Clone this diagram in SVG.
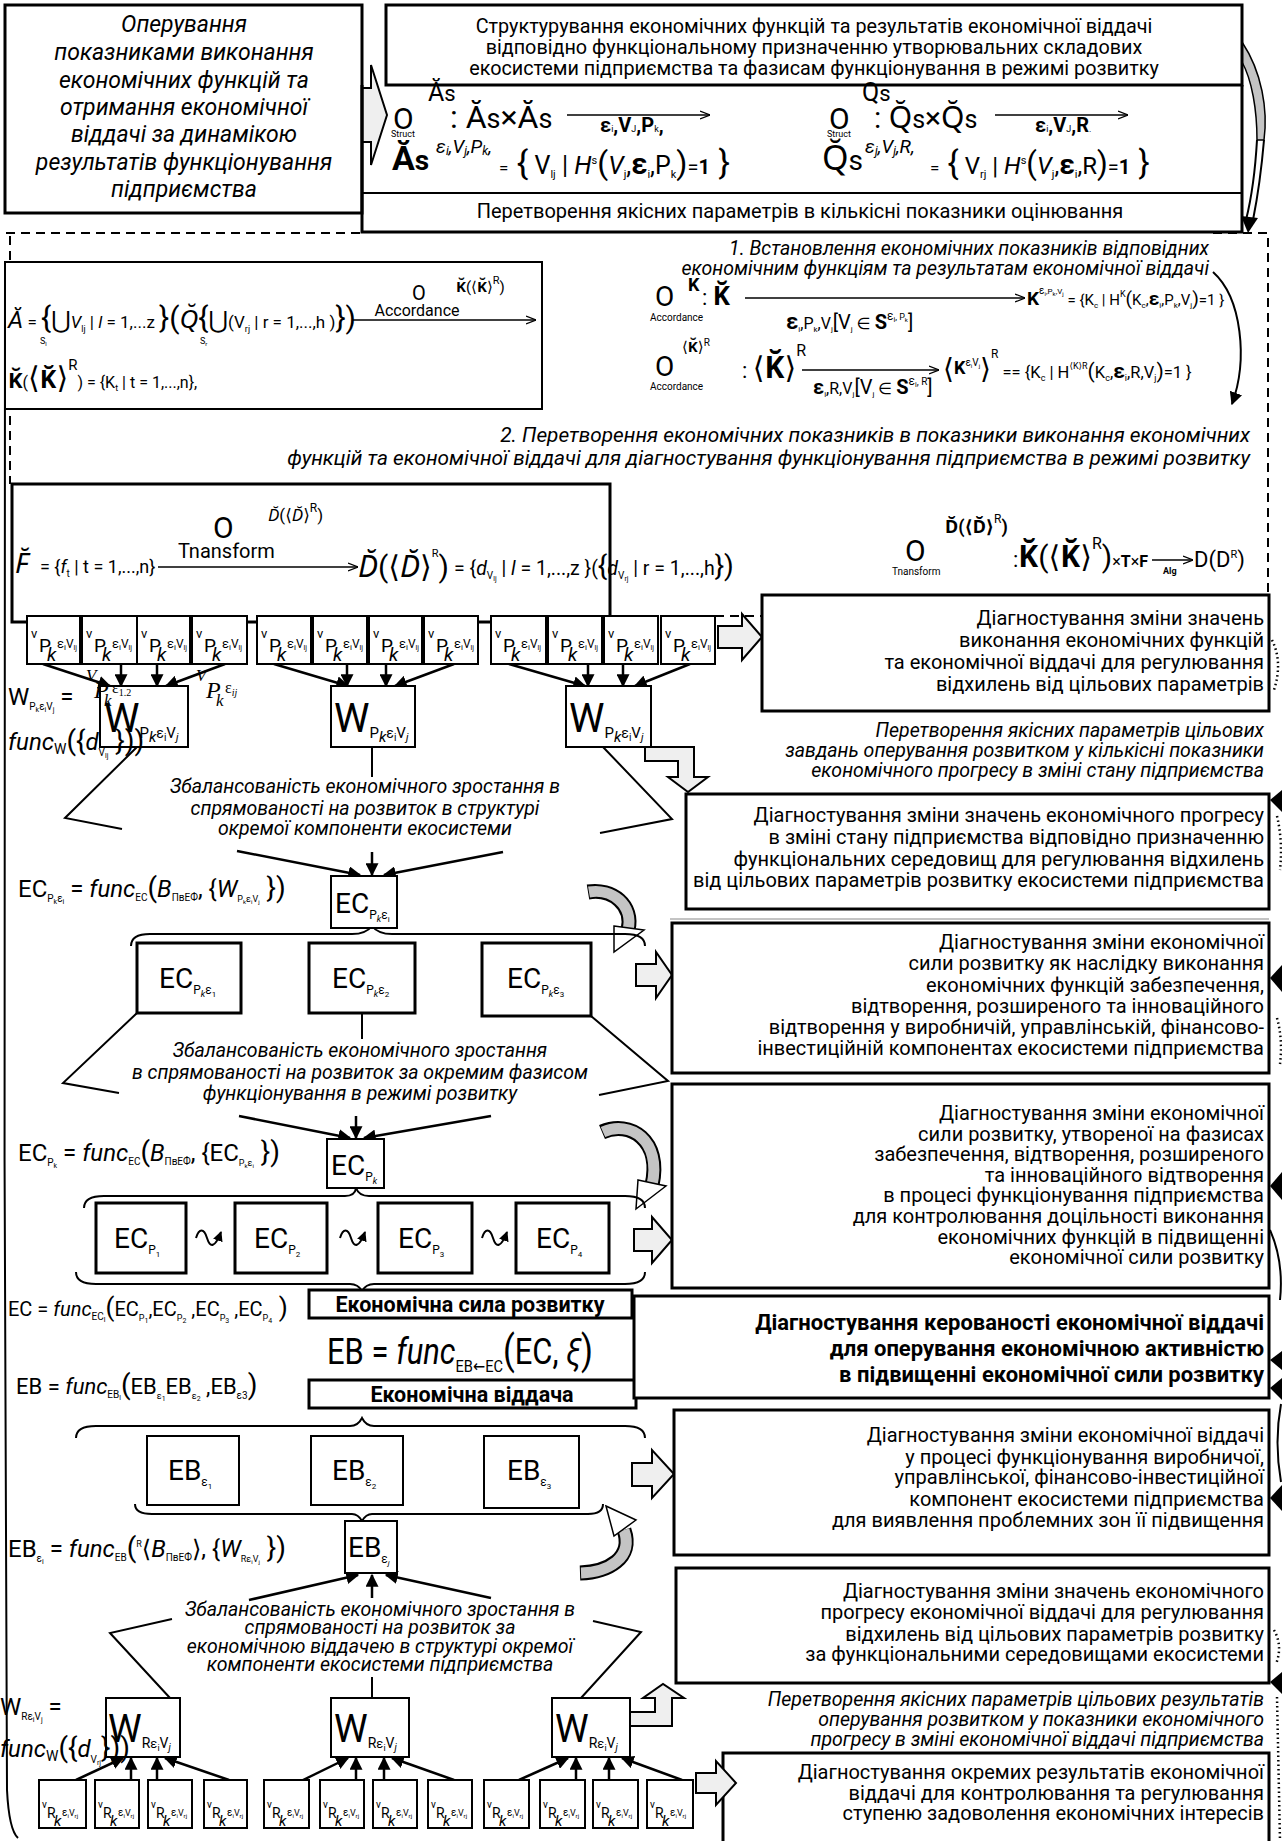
<svg xmlns="http://www.w3.org/2000/svg" width="1282" height="1841" viewBox="0 0 1282 1841">
<defs>
<style>
text{font-family:Roboto,"Noto Sans","DejaVu Sans",sans-serif;fill:#000}
.it{font-style:italic}
.n{font-style:normal}
.b{font-weight:bold}
.r{text-anchor:end}
.m{text-anchor:middle}
.bx{fill:#fff;stroke:#000;stroke-width:2}
.bx3{fill:#fff;stroke:#000;stroke-width:3}
.ln{fill:none;stroke:#000;stroke-width:2}
.ln3{fill:none;stroke:#000;stroke-width:3}
.ar{fill:none;stroke:#000;stroke-width:2.5;marker-end:url(#ah)}
.fa{fill:none;stroke:#000;stroke-width:1.3;marker-end:url(#fa)}
.ha{fill:#efefef;stroke:#000;stroke-width:2}
.dash{fill:none;stroke:#000;stroke-width:2;stroke-dasharray:9 6}
.dot{fill:none;stroke:#000;stroke-width:2.5;stroke-dasharray:1.5 3}
.tri{fill:#000}
.gb{fill:none;stroke:#000;stroke-width:15}
.gf{fill:none;stroke:#c4c4c4;stroke-width:11}
.wh{fill:#fff;stroke:#000;stroke-width:1.5}
.tx{font-size:20px}
.ser{font-family:"Liberation Serif",serif}
</style>
<marker id="ah" viewBox="0 0 10 10" refX="9" refY="5" markerWidth="13" markerHeight="13" markerUnits="userSpaceOnUse" orient="auto"><path d="M0,0 L10,5 L0,10 z"/></marker>
<marker id="ahs" viewBox="0 0 10 10" refX="9" refY="5" markerWidth="10" markerHeight="10" markerUnits="userSpaceOnUse" orient="auto"><path d="M0,0 L10,5 L0,10 z"/></marker>
<marker id="fa" viewBox="0 0 10 10" refX="10" refY="5" markerWidth="10" markerHeight="10" markerUnits="userSpaceOnUse" orient="auto"><path d="M0,1 L10,5 L0,9" fill="none" stroke="#000" stroke-width="1.3"/></marker>
</defs>
<rect width="1282" height="1841" fill="#fff"/>

<g id="connectors">
<path class="dash" d="M6,233 H362"/>
<path class="dash" d="M1213,233 H1268 V595"/>
<path class="dash" d="M10,236 V484"/>
<path class="dash" d="M715,616 H762"/>
<path class="ln" d="M5,262 C5,700 3,1300 7,1790 Q9,1830 18,1838"/>
<path d="M1242,42 C1262,72 1268,110 1264,140 L1257,140 C1257,110 1252,80 1242,62 Z" fill="#c4c4c4" stroke="#000" stroke-width="1.5"/>
<path class="ln" d="M1264,140 C1261,175 1257,200 1253,220"/>
<path class="ln" d="M1257,140 C1255,175 1251,200 1246,220"/>
<polygon class="tri" points="1241,216 1258,218 1248,233"/>
<path class="ln" d="M1213,272 C1242,298 1248,360 1232,404" marker-end="url(#ah)"/>
<polygon class="ha" points="362,88 371,88 371,65 387,115 371,165 371,142 362,142"/>
<polygon class="ha" points="718,626 742,626 742,614 762,637 742,660 742,648 718,648"/>
<polygon class="ha" points="645,747 694,747 694,777 708,777 688,792 668,777 678,777 678,761 645,761"/>
<polygon class="ha" points="636,964 656,964 656,952 672,975 656,998 656,986 636,986"/>
<polygon class="ha" points="634,1229 652,1229 652,1217 672,1240 652,1263 652,1251 634,1251"/>
<polygon class="ha" points="632,1463 652,1463 652,1450 674,1474 652,1498 652,1486 632,1486"/>
<polygon class="ha" points="630,1712 655,1712 655,1698 643,1698 663,1684 684,1698 672,1698 672,1726 630,1726"/>
<path class="gb" d="M588,892 C612,888 634,905 628,930"/>
<path class="gf" d="M589,892 C612,888 634,905 628,930"/>
<polygon class="wh" points="614,926 644,930 614,952"/>
<path class="gb" d="M602,1132 C630,1120 662,1140 652,1185"/>
<path class="gf" d="M603,1132 C630,1120 662,1140 652,1185"/>
<polygon class="wh" points="638,1180 666,1186 636,1209"/>
<path class="gb" d="M580,1573 C608,1572 634,1558 624,1530"/>
<path class="gf" d="M581,1573 C608,1572 634,1558 624,1530"/>
<polygon class="wh" points="606,1506 636,1520 614,1536"/>
<line class="ar" x1="43" y1="664" x2="110" y2="686"/>
<line class="ar" x1="121" y1="664" x2="121" y2="686"/>
<line class="ar" x1="157" y1="664" x2="157" y2="686"/>
<line class="ar" x1="225" y1="664" x2="166" y2="686"/>
<line class="ar" x1="274" y1="664" x2="348" y2="686"/>
<line class="ar" x1="347" y1="664" x2="347" y2="686"/>
<line class="ar" x1="386" y1="664" x2="386" y2="686"/>
<line class="ar" x1="454" y1="664" x2="395" y2="686"/>
<line class="ar" x1="509" y1="664" x2="585" y2="686"/>
<line class="ar" x1="588" y1="664" x2="588" y2="686"/>
<line class="ar" x1="623" y1="664" x2="623" y2="686"/>
<line class="ar" x1="690" y1="664" x2="635" y2="686"/>
<polyline class="ln" points="137,747 65,818 122,829"/>
<line class="ar" x1="237" y1="851" x2="360" y2="875"/>
<line class="ln" x1="372" y1="747" x2="372" y2="777"/>
<line class="ar" x1="372" y1="852" x2="372" y2="875"/>
<polyline class="ln" points="603,747 672,819 600,833"/>
<line class="ar" x1="503" y1="852" x2="384" y2="875"/>
<path class="ln" d="M131,946 Q131,934 150,934 L352,934 Q366,934 372,926 Q378,934 392,934 L625,934 Q645,934 645,946"/>
<polyline class="ln" points="137,1013 63,1083 119,1093"/>
<line class="ar" x1="239" y1="1116" x2="350" y2="1138"/>
<line class="ln" x1="362" y1="1013" x2="362" y2="1039"/>
<line class="ar" x1="356" y1="1116" x2="356" y2="1138"/>
<polyline class="ln" points="591,1016 668,1081 599,1095"/>
<line class="ar" x1="491" y1="1116" x2="364" y2="1138"/>
<path class="ln" d="M84,1208 Q84,1196 104,1196 L345,1196 Q355,1196 356,1188 Q359,1196 369,1196 L625,1196 Q645,1196 645,1208"/>
<path class="ln" d="M76,1272 Q76,1284 96,1284 L350,1284 Q358,1284 362,1291 Q366,1284 374,1284 L625,1284 Q645,1284 645,1272"/>
<path class="ln" d="M196,1238 C199,1228 204,1228 207,1238 S215,1248 221,1232" marker-end="url(#ahs)"/>
<path class="ln" d="M340,1238 C343,1228 348,1228 351,1238 S359,1248 365,1232" marker-end="url(#ahs)"/>
<path class="ln" d="M482,1238 C485,1228 490,1228 493,1238 S501,1248 507,1232" marker-end="url(#ahs)"/>
<path class="ln" d="M76,1438 Q76,1426 96,1426 L350,1426 Q358,1426 362,1418 Q366,1426 374,1426 L625,1426 Q645,1426 645,1438"/>
<path class="ln" d="M135,1504 Q135,1514 152,1514 L352,1514 Q358,1514 362,1521 Q366,1514 372,1514 L588,1514 Q603,1514 603,1504"/>
<polyline class="ln" points="170,1698 110,1633 172,1619"/>
<line class="ar" x1="249" y1="1600" x2="358" y2="1575"/>
<line class="ln" x1="372" y1="1698" x2="372" y2="1677"/>
<line class="ar" x1="372" y1="1598" x2="372" y2="1575"/>
<polyline class="ln" points="581,1698 641,1632 593,1621"/>
<line class="ar" x1="491" y1="1598" x2="386" y2="1575"/>
<line class="ar" x1="76" y1="1780" x2="123" y2="1758"/>
<line class="ar" x1="131" y1="1780" x2="131" y2="1758"/>
<line class="ar" x1="157" y1="1780" x2="157" y2="1758"/>
<line class="ar" x1="229" y1="1780" x2="165" y2="1758"/>
<line class="ar" x1="303" y1="1780" x2="348" y2="1758"/>
<line class="ar" x1="356" y1="1780" x2="356" y2="1758"/>
<line class="ar" x1="384" y1="1780" x2="384" y2="1758"/>
<line class="ar" x1="454" y1="1780" x2="392" y2="1758"/>
<line class="ar" x1="519" y1="1780" x2="568" y2="1758"/>
<line class="ar" x1="576" y1="1780" x2="576" y2="1758"/>
<line class="ar" x1="609" y1="1780" x2="609" y2="1758"/>
<line class="ar" x1="682" y1="1780" x2="622" y2="1758"/>
<path class="dot" d="M1272,640 Q1283,662 1274,690"/>
<polygon class="tri" points="1270,800 1282,790 1282,812"/>
<path class="dot" d="M1277,816 Q1283,842 1280,870"/>
<polygon class="tri" points="1270,978 1282,965 1282,992"/>
<path class="dot" d="M1277,1018 Q1283,1040 1280,1064"/>
<polygon class="tri" points="1270,1186 1282,1172 1282,1200"/>
<path class="ln" d="M1270,1230 Q1284,1262 1280,1300"/>
<polygon class="tri" points="1270,1360 1282,1351 1282,1370"/>
<polygon class="tri" points="1270,1388 1282,1378 1282,1400"/>
<path class="ln" d="M1281,1404 Q1274,1442 1281,1482"/>
<polygon class="tri" points="1270,1498 1282,1485 1282,1511"/>
<path class="dot" d="M1274,1630 Q1283,1646 1276,1664"/>
<polygon class="tri" points="1270,1682 1282,1672 1282,1694"/>
<path class="dot" d="M1277,1697 L1280,1841"/>
<line x1="670" y1="919" x2="1269" y2="919" stroke="#888" stroke-width="1"/>
</g>

<g id="n-operuvannia">
<rect class="bx3" x="5" y="5" width="357" height="208"/>
<text class="it m" font-size="23"><tspan x="184" y="32">Оперування</tspan><tspan x="184" y="60">показниками  виконання</tspan><tspan x="184" y="88">економічних функцій та</tspan><tspan x="184" y="115">отримання економічної</tspan><tspan x="184" y="142">віддачі за динамікою</tspan><tspan x="184" y="170">результатів  функціонування</tspan><tspan x="184" y="197">підприємства</tspan></text>
</g>

<g id="n-struct">
<rect class="bx3" x="386" y="5" width="856" height="80"/>
<text class="m" font-size="19.8"><tspan x="814" y="33">Структурування економічних функцій та результатів економічної віддачі</tspan><tspan x="814" y="54">відповідно функціональному призначенню утворювальних складових</tspan><tspan x="814" y="75">екосистеми підприємства та фазисам функціонування в режимі розвитку</tspan></text>
</g>

<g id="n-formulas">
<path class="ln3" d="M362,85 V232 H1242 V85"/>
<line class="ln" x1="362" y1="193" x2="1242" y2="193"/>
<text x="393" y="129" font-size="30">O</text>
<text x="428" y="101" font-size="25">Ă<tspan font-size="22">s</tspan></text>
<text x="391" y="137" font-size="9">Struct</text>
<text x="450" y="128" font-size="32">: Ă<tspan font-size="27">s</tspan>×Ă<tspan font-size="27">s</tspan></text>
<line class="fa" x1="567" y1="115" x2="710" y2="115"/>
<text x="600" y="132" font-size="20" class="b">ε<tspan font-size="9" font-weight="normal">i</tspan>,V<tspan font-size="9" font-weight="normal">J</tspan>,P<tspan font-size="9" font-weight="normal">k</tspan>,</text>
<text x="829" y="129" font-size="30">O</text>
<text x="862" y="101" font-size="25">Q<tspan font-size="22">s</tspan></text>
<text x="827" y="137" font-size="9">Struct</text>
<text x="874" y="128" font-size="30">: Q̆<tspan font-size="25">s</tspan>×Q̆<tspan font-size="25">s</tspan></text>
<line class="fa" x1="995" y1="115" x2="1128" y2="115"/>
<text x="1035" y="132" font-size="20" class="b">ε<tspan font-size="9" font-weight="normal">i</tspan>,V<tspan font-size="9" font-weight="normal">J</tspan>,R<tspan font-size="9" font-weight="normal">.</tspan></text>
<text x="392" y="170" font-size="34" class="b">Ă<tspan font-size="28">s</tspan></text>
<text x="436" y="153" font-size="19" class="it">ε<tspan font-size="12" dy="2">i</tspan><tspan dy="-2">,V</tspan><tspan font-size="12" dy="2">j</tspan><tspan dy="-2">,P</tspan><tspan font-size="12" dy="2">k</tspan><tspan dy="-2">,</tspan></text>
<text x="499" y="174" font-size="25"><tspan font-size="17">=</tspan><tspan font-size="34"> {</tspan> V<tspan font-size="11" dy="4">lj</tspan><tspan dy="-4"> | </tspan><tspan class="it">H</tspan><tspan font-size="11" dy="-10">s</tspan><tspan font-size="32" dy="10">(</tspan><tspan class="it">V</tspan><tspan font-size="11" dy="4">j</tspan><tspan dy="-4">,</tspan><tspan class="b" font-size="29">ε</tspan><tspan font-size="11" dy="4">i</tspan><tspan dy="-4">,P</tspan><tspan font-size="11" dy="4">k</tspan><tspan font-size="32" dy="-4">)</tspan><tspan font-size="20">=</tspan><tspan class="b" font-size="20">1</tspan><tspan font-size="34"> }</tspan></text>
<text x="822" y="170" font-size="34">Q̆<tspan font-size="28">s</tspan></text>
<text x="865" y="153" font-size="19" class="it">ε<tspan font-size="12" dy="2">j</tspan><tspan dy="-2">,V</tspan><tspan font-size="12" dy="2">j</tspan><tspan dy="-2">,R,</tspan></text>
<text x="930" y="174" font-size="24"><tspan font-size="17">=</tspan><tspan font-size="33"> {</tspan> V<tspan font-size="11" dy="4">rj</tspan><tspan dy="-4"> | </tspan><tspan class="it">H</tspan><tspan font-size="11" dy="-10">s</tspan><tspan font-size="31" dy="10">(</tspan><tspan class="it">V</tspan><tspan font-size="11" dy="4">j</tspan><tspan dy="-4">,</tspan><tspan class="b" font-size="28">ε</tspan><tspan font-size="11" dy="4">i</tspan><tspan dy="-4">,R</tspan><tspan font-size="31">)</tspan><tspan font-size="20">=</tspan><tspan class="b" font-size="20">1</tspan><tspan font-size="33"> }</tspan></text>
<text class="m" font-size="20" x="800" y="218">Перетворення якісних параметрів в кількісні показники  оцінювання</text>
</g>

<g id="n-accordance-k">
<rect class="bx" x="5" y="262" width="537" height="147"/>
<text x="8" y="328" font-size="17"><tspan class="it" font-size="24">Ă</tspan> = <tspan font-size="30">{</tspan><tspan font-size="24">⋃</tspan><tspan class="it">V</tspan><tspan font-size="9" dy="4">lj</tspan><tspan dy="-4"> | </tspan><tspan class="it">l</tspan> = 1,...z <tspan font-size="30">}(</tspan><tspan class="it" font-size="26">Q̆</tspan><tspan font-size="30">{</tspan><tspan font-size="24">⋃</tspan>(V<tspan font-size="9" dy="4">rj</tspan><tspan dy="-4">  | r = 1,...,h )</tspan><tspan font-size="30">})</tspan></text>
<text x="40" y="344" font-size="9">S<tspan font-size="6" dy="2">l</tspan></text>
<text x="200" y="344" font-size="9">S<tspan font-size="6" dy="2">r</tspan></text>
<text x="412" y="300" font-size="20">O</text>
<text x="456" y="292" font-size="15"><tspan class="b">K̆</tspan>(⟨<tspan class="b">K̆</tspan>⟩<tspan font-size="11" dy="-8">R</tspan><tspan dy="8">)</tspan></text>
<text class="m" x="417" y="316" font-size="16">Accordance</text>
<line class="fa" x1="352" y1="320" x2="536" y2="320"/>
<text x="8" y="388" font-size="16"><tspan class="b" font-size="22">K̆</tspan>(<tspan font-size="30">⟨</tspan><tspan class="b" font-size="25">K̆</tspan><tspan font-size="30">⟩</tspan><tspan font-size="15" dy="-18">R</tspan><tspan dy="18">) = {K</tspan><tspan font-size="9" dy="3">t</tspan><tspan dy="-3"> | t = 1,...,n},</tspan></text>
</g>

<g id="n-step1">
<text class="it r" font-size="19.5"><tspan x="1209" y="255">1. Встановлення економічних показників відповідних</tspan><tspan x="1209" y="275">економічним функціям та результатам економічної віддачі</tspan></text>
<text x="655" y="306" font-size="28">O</text>
<text x="688" y="291" font-size="18" class="b">K</text>
<text x="650" y="321" font-size="10">Accordance</text>
<text x="702" y="305" font-size="26"><tspan font-size="22">: </tspan><tspan class="b">K̆</tspan></text>
<line class="fa" x1="745" y1="298" x2="1025" y2="298"/>
<text x="786" y="329" font-size="16"><tspan class="b" font-size="22">ε</tspan><tspan font-size="8" dy="3">i</tspan><tspan dy="-3">,P</tspan><tspan font-size="8" dy="3">k</tspan><tspan dy="-3">,V</tspan><tspan font-size="8" dy="3">j</tspan><tspan dy="-3" font-size="20">[V</tspan><tspan font-size="8" dy="3">j</tspan><tspan dy="-3"> ∈ </tspan><tspan class="b" font-size="20">S</tspan><tspan font-size="12" dy="-9">ε</tspan><tspan font-size="7" dy="2">i</tspan><tspan font-size="9" dy="-2">, P</tspan><tspan font-size="6" dy="2">k</tspan><tspan font-size="20" dy="7">]</tspan></text>
<text x="1027" y="305" font-size="19"><tspan class="b">K</tspan><tspan font-size="10" dy="-11">ε</tspan><tspan font-size="6" dy="2">i</tspan><tspan font-size="8" dy="-2">,P</tspan><tspan font-size="6" dy="2">k</tspan><tspan font-size="8" dy="-2">,V</tspan><tspan font-size="6" dy="2">j</tspan><tspan dy="9" font-size="15"> = {K</tspan><tspan font-size="8" dy="3">c</tspan><tspan dy="-3" font-size="15"> | H</tspan><tspan font-size="9" dy="-8">K</tspan><tspan dy="8" font-size="19">(</tspan><tspan font-size="15">K</tspan><tspan font-size="8" dy="3">c</tspan><tspan dy="-3" font-size="15">,</tspan><tspan class="b" font-size="19">ε</tspan><tspan font-size="8" dy="3">i</tspan><tspan dy="-3" font-size="15">,P</tspan><tspan font-size="8" dy="3">k</tspan><tspan dy="-3" font-size="15">,V</tspan><tspan font-size="8" dy="3">j</tspan><tspan dy="-3" font-size="19">)</tspan><tspan font-size="15">=1 }</tspan></text>
<text x="655" y="376" font-size="28">O</text>
<text x="682" y="352" font-size="15">⟨<tspan class="b">K̆</tspan>⟩<tspan font-size="10" dy="-6">R</tspan></text>
<text x="650" y="390" font-size="10">Accordance</text>
<text x="742" y="378" font-size="30"><tspan font-size="22">: </tspan>⟨<tspan class="b">K̆</tspan>⟩<tspan font-size="16" dy="-22">R</tspan></text>
<line class="fa" x1="802" y1="370" x2="939" y2="370"/>
<text x="813" y="394" font-size="16"><tspan class="b" font-size="20">ε</tspan><tspan font-size="8" dy="3">i</tspan><tspan dy="-3">,R,V</tspan><tspan font-size="8" dy="3">j</tspan><tspan dy="-3" font-size="20">[V</tspan><tspan font-size="8" dy="3">j</tspan><tspan dy="-3"> ∈ </tspan><tspan class="b" font-size="20">S</tspan><tspan font-size="12" dy="-9">ε</tspan><tspan font-size="7" dy="2">i</tspan><tspan font-size="10" dy="-2">, R</tspan><tspan font-size="20" dy="9">]</tspan></text>
<text x="943" y="378" font-size="28">⟨<tspan class="b" font-size="18" dy="-4">K</tspan><tspan font-size="10" dy="-8">ε</tspan><tspan font-size="6" dy="2">i</tspan><tspan font-size="10" dy="-2">V</tspan><tspan font-size="6" dy="2">j</tspan><tspan dy="10">⟩</tspan><tspan font-size="12" dy="-20">R</tspan><tspan font-size="16.5" dy="20"> == {K</tspan><tspan font-size="9" dy="3">c</tspan><tspan dy="-3" font-size="16.5"> | H</tspan><tspan font-size="9" dy="-9">⟨K⟩R</tspan><tspan dy="9" font-size="21">(</tspan><tspan font-size="16.5">K</tspan><tspan font-size="9" dy="3">c</tspan><tspan dy="-3" font-size="16.5">,</tspan><tspan class="b" font-size="21">ε</tspan><tspan font-size="9" dy="3">i</tspan><tspan dy="-3" font-size="16.5">,R,V</tspan><tspan font-size="9" dy="3">j</tspan><tspan dy="-3" font-size="21">)</tspan><tspan font-size="16.5">=1 }</tspan></text>
</g>

<g id="n-step2">
<text class="it r" font-size="20.8"><tspan x="1250" y="442">2. Перетворення економічних показників в показники виконання економічних</tspan><tspan x="1250" y="465">функцій  та економічної віддачі для діагностування функціонування підприємства в режимі розвитку</tspan></text>
<text x="905" y="561" font-size="30">O</text>
<text x="892" y="575" font-size="10">Tnansform</text>
<text x="945" y="533" font-size="18" class="b">D̆(⟨D̆⟩<tspan font-size="12" dy="-10" font-weight="normal">R</tspan><tspan dy="10">)</tspan></text>
<text x="1013" y="567" font-size="30"><tspan font-size="22">:</tspan><tspan class="b">K̆</tspan>(⟨<tspan class="b">K̆</tspan>⟩<tspan font-size="16" dy="-18">R</tspan><tspan dy="18">)</tspan><tspan font-size="16">×<tspan class="b">T</tspan>×<tspan class="b">F</tspan></tspan></text>
<line class="fa" x1="1152" y1="560" x2="1193" y2="560"/>
<text x="1163" y="574" font-size="9" class="b">Alg</text>
<text x="1194" y="567" font-size="22">D(D<tspan font-size="11" dy="-9">R</tspan><tspan dy="9">)</tspan></text>
</g>

<g id="n-transform">
<rect class="bx3" x="12" y="484" width="598" height="138"/>
<text x="15" y="573" font-size="28" class="it">F̆</text>
<text x="40" y="573" font-size="18">= {<tspan class="it">f</tspan><tspan font-size="10" dy="4">t</tspan><tspan dy="-4"> | t = 1,...,n}</tspan></text>
<line class="fa" x1="158" y1="567" x2="358" y2="567"/>
<text x="213" y="538" font-size="30">O</text>
<text x="268" y="521" font-size="17"><tspan class="it">D̆</tspan>(⟨<tspan class="it">D̆</tspan>⟩<tspan font-size="12" dy="-9">R</tspan><tspan dy="9">)</tspan></text>
<text x="178" y="558" font-size="20">Tnansform</text>
<text x="358" y="577" font-size="30"><tspan class="it">D̆</tspan>(⟨<tspan class="it">D̆</tspan>⟩<tspan font-size="11" dy="-20">R</tspan><tspan dy="20">)</tspan></text>
<text x="454" y="575" font-size="19.5">= {<tspan class="it">d</tspan><tspan font-size="10" dy="4">V</tspan><tspan font-size="7" dy="2">lj</tspan><tspan dy="-6"> | </tspan><tspan class="it">l</tspan> = 1,...,z }(<tspan font-size="28">{</tspan><tspan class="it">d</tspan><tspan font-size="10" dy="4">V</tspan><tspan font-size="7" dy="2">rj</tspan><tspan dy="-6"> | r = 1,...,h</tspan><tspan font-size="28">})</tspan></text>
</g>

<g id="n-v-top">
<rect class="bx" x="27" y="616" width="53" height="48"/><text font-size="13"><tspan x="31" y="638">v</tspan><tspan x="39" y="652" font-size="19">P</tspan><tspan x="47" y="661" font-size="19" class="it">k</tspan><tspan x="57" y="648">ε</tspan><tspan font-size="8" dy="2">i</tspan><tspan font-size="12" dy="-2">V</tspan><tspan font-size="7" dy="2">lj</tspan></text>
<rect class="bx" x="82" y="616" width="55" height="48"/><text font-size="13"><tspan x="86" y="638">v</tspan><tspan x="94" y="652" font-size="19">P</tspan><tspan x="102" y="661" font-size="19" class="it">k</tspan><tspan x="112" y="648">ε</tspan><tspan font-size="8" dy="2">i</tspan><tspan font-size="12" dy="-2">V</tspan><tspan font-size="7" dy="2">lj</tspan></text>
<rect class="bx" x="137" y="616" width="53" height="48"/><text font-size="13"><tspan x="141" y="638">v</tspan><tspan x="149" y="652" font-size="19">P</tspan><tspan x="157" y="661" font-size="19" class="it">k</tspan><tspan x="167" y="648">ε</tspan><tspan font-size="8" dy="2">i</tspan><tspan font-size="12" dy="-2">V</tspan><tspan font-size="7" dy="2">lj</tspan></text>
<rect class="bx" x="192" y="616" width="55" height="48"/><text font-size="13"><tspan x="196" y="638">v</tspan><tspan x="204" y="652" font-size="19">P</tspan><tspan x="212" y="661" font-size="19" class="it">k</tspan><tspan x="222" y="648">ε</tspan><tspan font-size="8" dy="2">i</tspan><tspan font-size="12" dy="-2">V</tspan><tspan font-size="7" dy="2">lj</tspan></text>
<rect class="bx" x="257" y="616" width="54" height="48"/><text font-size="13"><tspan x="261" y="638">v</tspan><tspan x="269" y="652" font-size="19">P</tspan><tspan x="277" y="661" font-size="19" class="it">k</tspan><tspan x="287" y="648">ε</tspan><tspan font-size="8" dy="2">i</tspan><tspan font-size="12" dy="-2">V</tspan><tspan font-size="7" dy="2">lj</tspan></text>
<rect class="bx" x="313" y="616" width="54" height="48"/><text font-size="13"><tspan x="317" y="638">v</tspan><tspan x="325" y="652" font-size="19">P</tspan><tspan x="333" y="661" font-size="19" class="it">k</tspan><tspan x="343" y="648">ε</tspan><tspan font-size="8" dy="2">i</tspan><tspan font-size="12" dy="-2">V</tspan><tspan font-size="7" dy="2">lj</tspan></text>
<rect class="bx" x="369" y="616" width="53" height="48"/><text font-size="13"><tspan x="373" y="638">v</tspan><tspan x="381" y="652" font-size="19">P</tspan><tspan x="389" y="661" font-size="19" class="it">k</tspan><tspan x="399" y="648">ε</tspan><tspan font-size="8" dy="2">i</tspan><tspan font-size="12" dy="-2">V</tspan><tspan font-size="7" dy="2">lj</tspan></text>
<rect class="bx" x="424" y="616" width="54" height="48"/><text font-size="13"><tspan x="428" y="638">v</tspan><tspan x="436" y="652" font-size="19">P</tspan><tspan x="444" y="661" font-size="19" class="it">k</tspan><tspan x="454" y="648">ε</tspan><tspan font-size="8" dy="2">i</tspan><tspan font-size="12" dy="-2">V</tspan><tspan font-size="7" dy="2">lj</tspan></text>
<rect class="bx" x="491" y="616" width="55" height="48"/><text font-size="13"><tspan x="495" y="638">v</tspan><tspan x="503" y="652" font-size="19">P</tspan><tspan x="511" y="661" font-size="19" class="it">k</tspan><tspan x="521" y="648">ε</tspan><tspan font-size="8" dy="2">i</tspan><tspan font-size="12" dy="-2">V</tspan><tspan font-size="7" dy="2">lj</tspan></text>
<rect class="bx" x="548" y="616" width="54" height="48"/><text font-size="13"><tspan x="552" y="638">v</tspan><tspan x="560" y="652" font-size="19">P</tspan><tspan x="568" y="661" font-size="19" class="it">k</tspan><tspan x="578" y="648">ε</tspan><tspan font-size="8" dy="2">i</tspan><tspan font-size="12" dy="-2">V</tspan><tspan font-size="7" dy="2">lj</tspan></text>
<rect class="bx" x="604" y="616" width="54" height="48"/><text font-size="13"><tspan x="608" y="638">v</tspan><tspan x="616" y="652" font-size="19">P</tspan><tspan x="624" y="661" font-size="19" class="it">k</tspan><tspan x="634" y="648">ε</tspan><tspan font-size="8" dy="2">i</tspan><tspan font-size="12" dy="-2">V</tspan><tspan font-size="7" dy="2">lj</tspan></text>
<rect class="bx" x="661" y="616" width="54" height="48"/><text font-size="13"><tspan x="665" y="638">v</tspan><tspan x="673" y="652" font-size="19">P</tspan><tspan x="681" y="661" font-size="19" class="it">k</tspan><tspan x="691" y="648">ε</tspan><tspan font-size="8" dy="2">i</tspan><tspan font-size="12" dy="-2">V</tspan><tspan font-size="7" dy="2">lj</tspan></text>
</g>

<g id="n-diag-a">
<rect class="bx3" x="762" y="595" width="507" height="116"/>
<text class="r tx"><tspan x="1264" y="625">Діагностування зміни значень</tspan><tspan x="1264" y="647">виконання економічних функцій</tspan><tspan x="1264" y="669">та економічної віддачі для регулювання</tspan><tspan x="1264" y="691">відхилень від цільових параметрів</tspan></text>
</g>
<g id="t-transform-1">
<text class="it r" font-size="19.5"><tspan x="1264" y="737">Перетворення якісних параметрів цільових</tspan><tspan x="1264" y="757">завдань оперування розвитком у кількісні показники</tspan><tspan x="1264" y="777">економічного прогресу  в  зміні стану підприємства</tspan></text>
</g>

<g id="n-w-top">
<rect class="bx" x="100" y="686" width="88" height="61"/><text x="104" y="732" font-size="40">W<tspan font-size="15" dy="6">P</tspan><tspan font-size="15" dy="4" class="it">k</tspan><tspan font-size="14" dy="-4">ε</tspan><tspan font-size="10" dy="3">i</tspan><tspan font-size="15" dy="-3">V</tspan><tspan font-size="11" dy="3" class="it">j</tspan></text>
<rect class="bx" x="331" y="686" width="84" height="61"/><text x="334" y="732" font-size="40">W<tspan font-size="15" dy="6">P</tspan><tspan font-size="15" dy="4" class="it">k</tspan><tspan font-size="14" dy="-4">ε</tspan><tspan font-size="10" dy="3">i</tspan><tspan font-size="15" dy="-3">V</tspan><tspan font-size="11" dy="3" class="it">j</tspan></text>
<rect class="bx" x="566" y="686" width="85" height="61"/><text x="569" y="732" font-size="40">W<tspan font-size="15" dy="6">P</tspan><tspan font-size="15" dy="4" class="it">k</tspan><tspan font-size="14" dy="-4">ε</tspan><tspan font-size="10" dy="3">i</tspan><tspan font-size="15" dy="-3">V</tspan><tspan font-size="11" dy="3" class="it">j</tspan></text>
</g>

<g id="t-balance-1">
<text class="it m" font-size="19.5"><tspan x="365" y="793">Збалансованість економічного зростання в</tspan><tspan x="365" y="815">спрямованості на розвиток в структурі</tspan><tspan x="365" y="835">окремої компоненти екосистеми</tspan></text>
</g>

<g id="n-diag-b">
<rect class="bx3" x="686" y="794" width="583" height="115"/>
<text class="r tx"><tspan x="1264" y="822">Діагностування зміни значень економічного прогресу</tspan><tspan x="1264" y="844">в зміні стану підприємства  відповідно призначенню</tspan><tspan x="1264" y="866">функціональних середовищ для регулювання відхилень</tspan><tspan x="1264" y="887">від цільових параметрів розвитку екосистеми підприємства</tspan></text>
</g>

<g id="n-ec-pkei">
<rect class="bx" x="331" y="876" width="66" height="52"/>
<text x="335" y="913" font-size="28">EC<tspan font-size="12" dy="6">P</tspan><tspan font-size="9" dy="3" class="it">k</tspan><tspan font-size="12" dy="-3">ε</tspan><tspan font-size="8" dy="3">i</tspan></text>
</g>

<g id="n-ec-row">
<rect class="bx3" x="137" y="943" width="104" height="70"/><text x="159" y="988" font-size="28">EC<tspan font-size="12" dy="6">P</tspan><tspan font-size="9" dy="3" class="it">k</tspan><tspan font-size="12" dy="-3">ε</tspan><tspan font-size="8" dy="3">1</tspan></text>
<rect class="bx3" x="309" y="943" width="106" height="70"/><text x="332" y="988" font-size="28">EC<tspan font-size="12" dy="6">P</tspan><tspan font-size="9" dy="3" class="it">k</tspan><tspan font-size="12" dy="-3">ε</tspan><tspan font-size="8" dy="3">2</tspan></text>
<rect class="bx3" x="482" y="943" width="109" height="73"/><text x="507" y="988" font-size="28">EC<tspan font-size="12" dy="6">P</tspan><tspan font-size="9" dy="3" class="it">k</tspan><tspan font-size="12" dy="-3">ε</tspan><tspan font-size="8" dy="3">3</tspan></text>
</g>

<g id="n-diag-c">
<rect class="bx3" x="672" y="923" width="597" height="150"/>
<text class="r tx"><tspan x="1264" y="949">Діагностування зміни економічної</tspan><tspan x="1264" y="970">сили розвитку як наслідку виконання</tspan><tspan x="1264" y="992">економічних функцій забезпечення,</tspan><tspan x="1264" y="1013">відтворення, розширеного та інноваційного</tspan><tspan x="1264" y="1034">відтворення у виробничій, управлінській, фінансово-</tspan><tspan x="1264" y="1055">інвестиційній компонентах екосистеми підприємства</tspan></text>
</g>

<g id="t-balance-2">
<text class="it m" font-size="19.5"><tspan x="360" y="1057">Збалансованість економічного зростання</tspan><tspan x="360" y="1079">в спрямованості на розвиток за окремим фазисом</tspan><tspan x="360" y="1100">функціонування в режимі розвитку</tspan></text>
</g>

<g id="n-ec-pk">
<rect class="bx" x="327" y="1139" width="57" height="49"/>
<text x="331" y="1175" font-size="28">EC<tspan font-size="12" dy="6">P</tspan><tspan font-size="9" dy="3" class="it">k</tspan></text>
</g>

<g id="n-ecp-row">
<rect class="bx3" x="96" y="1203" width="90" height="70"/><text x="114" y="1248" font-size="28">EC<tspan font-size="12" dy="6">P</tspan><tspan font-size="8" dy="3">1</tspan></text>
<rect class="bx3" x="235" y="1203" width="92" height="70"/><text x="254" y="1248" font-size="28">EC<tspan font-size="12" dy="6">P</tspan><tspan font-size="8" dy="3">2</tspan></text>
<rect class="bx3" x="378" y="1203" width="94" height="70"/><text x="398" y="1248" font-size="28">EC<tspan font-size="12" dy="6">P</tspan><tspan font-size="8" dy="3">3</tspan></text>
<rect class="bx3" x="516" y="1203" width="93" height="70"/><text x="536" y="1248" font-size="28">EC<tspan font-size="12" dy="6">P</tspan><tspan font-size="8" dy="3">4</tspan></text>
</g>

<g id="n-diag-d">
<rect class="bx3" x="672" y="1084" width="597" height="204"/>
<text class="r tx"><tspan x="1264" y="1120">Діагностування зміни економічної</tspan><tspan x="1264" y="1141">сили розвитку, утвореної на фазисах</tspan><tspan x="1264" y="1161">забезпечення, відтворення, розширеного</tspan><tspan x="1264" y="1182">та інноваційного відтворення</tspan><tspan x="1264" y="1202">в процесі функціонування підприємства</tspan><tspan x="1264" y="1223">для контролювання доцільності виконання</tspan><tspan x="1264" y="1244">економічних функцій в підвищенні</tspan><tspan x="1264" y="1264">економічної сили розвитку</tspan></text>
</g>

<g id="n-ec-label">
<rect class="bx3" x="309" y="1290" width="323" height="28"/>
<text class="b m" x="470" y="1312" font-size="21.5">Економічна сила розвитку</text>
</g>
<g id="n-eb-label">
<rect class="bx3" x="309" y="1380" width="327" height="28"/>
<text class="b m" x="472" y="1402" font-size="21.5">Економічна віддача</text>
</g>
<g id="t-eb-formula">
<text x="327" y="1364" font-size="36" textLength="266" lengthAdjust="spacingAndGlyphs">EB = <tspan class="it">func</tspan><tspan font-size="17" dy="8">EB←EC</tspan><tspan dy="-8" font-size="40">(</tspan>EC, <tspan class="it">ξ</tspan><tspan font-size="40">)</tspan></text>
</g>

<g id="n-diag-e">
<rect class="bx3" x="634" y="1296" width="635" height="102"/>
<text class="r b" font-size="22"><tspan x="1264" y="1330">Діагностування керованості економічної віддачі</tspan><tspan x="1264" y="1356">для оперування економічною активністю</tspan><tspan x="1264" y="1382">в підвищенні економічної сили розвитку</tspan></text>
</g>

<g id="n-eb-row">
<rect class="bx" x="147" y="1436" width="92" height="69"/><text x="168" y="1480" font-size="28">EB<tspan font-size="12" dy="6">ε</tspan><tspan font-size="8" dy="3">1</tspan></text>
<rect class="bx" x="311" y="1436" width="92" height="69"/><text x="332" y="1480" font-size="28">EB<tspan font-size="12" dy="6">ε</tspan><tspan font-size="8" dy="3">2</tspan></text>
<rect class="bx" x="484" y="1436" width="95" height="72"/><text x="507" y="1480" font-size="28">EB<tspan font-size="12" dy="6">ε</tspan><tspan font-size="8" dy="3">3</tspan></text>
</g>

<g id="n-diag-f">
<rect class="bx3" x="674" y="1410" width="595" height="145"/>
<text class="r tx"><tspan x="1264" y="1442">Діагностування зміни економічної віддачі</tspan><tspan x="1264" y="1464">у процесі функціонування виробничої,</tspan><tspan x="1264" y="1484">управлінської, фінансово-інвестиційної</tspan><tspan x="1264" y="1506">компонент екосистеми підприємства</tspan><tspan x="1264" y="1527">для виявлення проблемних зон її підвищення</tspan></text>
</g>

<g id="n-eb-ei">
<rect class="bx" x="345" y="1521" width="52" height="52"/>
<text x="348" y="1557" font-size="28">EB<tspan font-size="12" dy="6">ε</tspan><tspan font-size="8" dy="3" class="it">j</tspan></text>
</g>

<g id="t-balance-3">
<text class="it m" font-size="19.5"><tspan x="380" y="1616">Збалансованість економічного зростання в</tspan><tspan x="380" y="1634">спрямованості на розвиток  за</tspan><tspan x="380" y="1653">економічною віддачею в структурі окремої</tspan><tspan x="380" y="1671">компоненти екосистеми підприємства</tspan></text>
</g>

<g id="n-diag-g">
<rect class="bx3" x="676" y="1568" width="593" height="115"/>
<text class="r tx"><tspan x="1264" y="1598">Діагностування зміни значень економічного</tspan><tspan x="1264" y="1619">прогресу економічної віддачі для регулювання</tspan><tspan x="1264" y="1641">відхилень від цільових параметрів розвитку</tspan><tspan x="1264" y="1661">за функціональними середовищами екосистеми</tspan></text>
</g>
<g id="t-transform-2">
<text class="it r" font-size="19.5"><tspan x="1264" y="1706">Перетворення якісних параметрів цільових  результатів</tspan><tspan x="1264" y="1726">оперування розвитком у показники економічного</tspan><tspan x="1264" y="1746">прогресу в зміні економічної віддачі підприємства</tspan></text>
</g>

<g id="n-w-bottom">
<rect class="bx" x="106" y="1698" width="74" height="59"/><text x="108" y="1742" font-size="38">W<tspan font-size="14" dy="6">R</tspan><tspan font-size="13" dy="0">ε</tspan><tspan font-size="9" dy="3">i</tspan><tspan font-size="14" dy="-3">V</tspan><tspan font-size="10" dy="3" class="it">j</tspan></text>
<rect class="bx" x="331" y="1698" width="78" height="59"/><text x="334" y="1742" font-size="38">W<tspan font-size="14" dy="6">R</tspan><tspan font-size="13" dy="0">ε</tspan><tspan font-size="9" dy="3">i</tspan><tspan font-size="14" dy="-3">V</tspan><tspan font-size="10" dy="3" class="it">j</tspan></text>
<rect class="bx" x="552" y="1698" width="78" height="59"/><text x="555" y="1742" font-size="38">W<tspan font-size="14" dy="6">R</tspan><tspan font-size="13" dy="0">ε</tspan><tspan font-size="9" dy="3">i</tspan><tspan font-size="14" dy="-3">V</tspan><tspan font-size="10" dy="3" class="it">j</tspan></text>
</g>

<g id="n-v-bottom">
<rect class="bx" x="39" y="1780" width="47" height="48"/><text font-size="10"><tspan x="42" y="1808">v</tspan><tspan x="47" y="1818" font-size="14">R</tspan><tspan x="54" y="1826" font-size="15" class="it">k</tspan><tspan x="62" y="1816">ε</tspan><tspan font-size="6" dy="2">i</tspan><tspan font-size="9" dy="-2">V</tspan><tspan font-size="6" dy="2">rj</tspan></text>
<rect class="bx" x="95" y="1780" width="44" height="48"/><text font-size="10"><tspan x="98" y="1808">v</tspan><tspan x="103" y="1818" font-size="14">R</tspan><tspan x="110" y="1826" font-size="15" class="it">k</tspan><tspan x="118" y="1816">ε</tspan><tspan font-size="6" dy="2">i</tspan><tspan font-size="9" dy="-2">V</tspan><tspan font-size="6" dy="2">rj</tspan></text>
<rect class="bx" x="148" y="1780" width="44" height="48"/><text font-size="10"><tspan x="151" y="1808">v</tspan><tspan x="156" y="1818" font-size="14">R</tspan><tspan x="163" y="1826" font-size="15" class="it">k</tspan><tspan x="171" y="1816">ε</tspan><tspan font-size="6" dy="2">i</tspan><tspan font-size="9" dy="-2">V</tspan><tspan font-size="6" dy="2">rj</tspan></text>
<rect class="bx" x="204" y="1780" width="43" height="48"/><text font-size="10"><tspan x="207" y="1808">v</tspan><tspan x="212" y="1818" font-size="14">R</tspan><tspan x="219" y="1826" font-size="15" class="it">k</tspan><tspan x="227" y="1816">ε</tspan><tspan font-size="6" dy="2">i</tspan><tspan font-size="9" dy="-2">V</tspan><tspan font-size="6" dy="2">rj</tspan></text>
<rect class="bx" x="264" y="1780" width="45" height="48"/><text font-size="10"><tspan x="267" y="1808">v</tspan><tspan x="272" y="1818" font-size="14">R</tspan><tspan x="279" y="1826" font-size="15" class="it">k</tspan><tspan x="287" y="1816">ε</tspan><tspan font-size="6" dy="2">i</tspan><tspan font-size="9" dy="-2">V</tspan><tspan font-size="6" dy="2">rj</tspan></text>
<rect class="bx" x="320" y="1780" width="44" height="48"/><text font-size="10"><tspan x="323" y="1808">v</tspan><tspan x="328" y="1818" font-size="14">R</tspan><tspan x="335" y="1826" font-size="15" class="it">k</tspan><tspan x="343" y="1816">ε</tspan><tspan font-size="6" dy="2">i</tspan><tspan font-size="9" dy="-2">V</tspan><tspan font-size="6" dy="2">rj</tspan></text>
<rect class="bx" x="373" y="1780" width="44" height="48"/><text font-size="10"><tspan x="376" y="1808">v</tspan><tspan x="381" y="1818" font-size="14">R</tspan><tspan x="388" y="1826" font-size="15" class="it">k</tspan><tspan x="396" y="1816">ε</tspan><tspan font-size="6" dy="2">i</tspan><tspan font-size="9" dy="-2">V</tspan><tspan font-size="6" dy="2">rj</tspan></text>
<rect class="bx" x="428" y="1780" width="44" height="48"/><text font-size="10"><tspan x="431" y="1808">v</tspan><tspan x="436" y="1818" font-size="14">R</tspan><tspan x="443" y="1826" font-size="15" class="it">k</tspan><tspan x="451" y="1816">ε</tspan><tspan font-size="6" dy="2">i</tspan><tspan font-size="9" dy="-2">V</tspan><tspan font-size="6" dy="2">rj</tspan></text>
<rect class="bx" x="484" y="1780" width="45" height="48"/><text font-size="10"><tspan x="487" y="1808">v</tspan><tspan x="492" y="1818" font-size="14">R</tspan><tspan x="499" y="1826" font-size="15" class="it">k</tspan><tspan x="507" y="1816">ε</tspan><tspan font-size="6" dy="2">i</tspan><tspan font-size="9" dy="-2">V</tspan><tspan font-size="6" dy="2">rj</tspan></text>
<rect class="bx" x="540" y="1780" width="45" height="48"/><text font-size="10"><tspan x="543" y="1808">v</tspan><tspan x="548" y="1818" font-size="14">R</tspan><tspan x="555" y="1826" font-size="15" class="it">k</tspan><tspan x="563" y="1816">ε</tspan><tspan font-size="6" dy="2">i</tspan><tspan font-size="9" dy="-2">V</tspan><tspan font-size="6" dy="2">rj</tspan></text>
<rect class="bx" x="593" y="1780" width="45" height="48"/><text font-size="10"><tspan x="596" y="1808">v</tspan><tspan x="601" y="1818" font-size="14">R</tspan><tspan x="608" y="1826" font-size="15" class="it">k</tspan><tspan x="616" y="1816">ε</tspan><tspan font-size="6" dy="2">i</tspan><tspan font-size="9" dy="-2">V</tspan><tspan font-size="6" dy="2">rj</tspan></text>
<rect class="bx" x="647" y="1780" width="46" height="48"/><text font-size="10"><tspan x="650" y="1808">v</tspan><tspan x="655" y="1818" font-size="14">R</tspan><tspan x="662" y="1826" font-size="15" class="it">k</tspan><tspan x="670" y="1816">ε</tspan><tspan font-size="6" dy="2">i</tspan><tspan font-size="9" dy="-2">V</tspan><tspan font-size="6" dy="2">rj</tspan></text>
</g>

<g id="n-diag-h">
<rect class="bx3" x="723" y="1753" width="546" height="95"/>
<text class="r tx"><tspan x="1264" y="1779">Діагностування окремих результатів економічної</tspan><tspan x="1264" y="1800">віддачі для контролювання та регулювання</tspan><tspan x="1264" y="1820">ступеню задоволення економічних інтересів</tspan></text>
</g>
<g id="arrow-h">
<polygon class="ha" points="696,1773 716,1773 716,1761 736,1783 716,1805 716,1793 696,1793"/>
</g>

<g id="labels">
<text x="8" y="705" font-size="24">W<tspan font-size="10" dy="5">P</tspan><tspan font-size="7" dy="2">k</tspan><tspan font-size="10" dy="-2">ε</tspan><tspan font-size="7" dy="2">i</tspan><tspan font-size="10" dy="-2">V</tspan><tspan font-size="7" dy="2">j</tspan><tspan dy="-7">  =</tspan></text>
<text x="8" y="750" font-size="24" class="it">func<tspan font-size="14" dy="4" class="n">W</tspan><tspan dy="-4" class="n" font-size="28">({</tspan>d<tspan font-size="10" dy="6" class="n">V</tspan><tspan font-size="7" dy="2" class="n">lj</tspan><tspan dy="-8" class="n" font-size="28"> }))</tspan></text>
<text class="ser it" x="86" y="681" font-size="17">V</text>
<text class="ser it" x="94" y="698" font-size="24">P</text>
<text class="ser it" x="104" y="706" font-size="17">k</text>
<text class="ser" x="112" y="693" font-size="16">ε<tspan font-size="10" dy="3">1.2</tspan></text>
<text class="ser it" x="196" y="681" font-size="17">V</text>
<text class="ser it" x="206" y="698" font-size="24">P</text>
<text class="ser it" x="216" y="706" font-size="17">k</text>
<text class="ser" x="225" y="693" font-size="16">ε<tspan font-size="10" dy="3" class="it">ij</tspan></text>
<text x="18" y="897" font-size="24">EC<tspan font-size="10" dy="5">P</tspan><tspan font-size="7" dy="2">k</tspan><tspan font-size="10" dy="-2">ε</tspan><tspan font-size="7" dy="2">i</tspan><tspan dy="-7"> = </tspan><tspan class="it">func</tspan><tspan font-size="10" dy="4">EC</tspan><tspan dy="-4" font-size="28">(</tspan><tspan class="it">B</tspan><tspan font-size="10" dy="4">ПвЕФ</tspan><tspan dy="-4">, {</tspan><tspan class="it">W</tspan><tspan font-size="9" dy="5">P</tspan><tspan font-size="6" dy="2">k</tspan><tspan font-size="9" dy="-2">ε</tspan><tspan font-size="6" dy="2">i</tspan><tspan font-size="9" dy="-2">V</tspan><tspan font-size="6" dy="2">j</tspan><tspan dy="-7" font-size="28"> })</tspan></text>
<text x="18" y="1161" font-size="24">EC<tspan font-size="10" dy="5">P</tspan><tspan font-size="7" dy="2">k</tspan><tspan dy="-7"> = </tspan><tspan class="it">func</tspan><tspan font-size="10" dy="4">EC</tspan><tspan dy="-4" font-size="28">(</tspan><tspan class="it">B</tspan><tspan font-size="10" dy="4">ПвЕФ</tspan><tspan dy="-4">, {EC</tspan><tspan font-size="9" dy="5">P</tspan><tspan font-size="6" dy="2">k</tspan><tspan font-size="9" dy="-2">ε</tspan><tspan font-size="6" dy="2">i</tspan><tspan dy="-7" font-size="28"> })</tspan></text>
<text x="8" y="1316" font-size="20">EC  = <tspan class="it">func</tspan><tspan font-size="10" dy="4">EC</tspan><tspan font-size="7" dy="2">l</tspan><tspan dy="-6" font-size="26">(</tspan>EC<tspan font-size="9" dy="5">P</tspan><tspan font-size="7" dy="2">1</tspan><tspan dy="-7">,EC</tspan><tspan font-size="9" dy="5">P</tspan><tspan font-size="7" dy="2">2</tspan><tspan dy="-7"> ,EC</tspan><tspan font-size="9" dy="5">P</tspan><tspan font-size="7" dy="2">3</tspan><tspan dy="-7"> ,EC</tspan><tspan font-size="9" dy="5">P</tspan><tspan font-size="7" dy="2">4</tspan><tspan dy="-7" font-size="26"> )</tspan></text>
<text x="16" y="1394" font-size="22">EB  = <tspan class="it">func</tspan><tspan font-size="10" dy="4">EB</tspan><tspan font-size="7" dy="2">l</tspan><tspan dy="-6" font-size="28">(</tspan>EB<tspan font-size="9" dy="5">ε</tspan><tspan font-size="7" dy="2">1</tspan><tspan dy="-7">EB</tspan><tspan font-size="9" dy="5">ε</tspan><tspan font-size="7" dy="2">2</tspan><tspan dy="-7"> ,EB</tspan><tspan font-size="10" dy="5">ε3</tspan><tspan dy="-5" font-size="28">)</tspan></text>
<text x="8" y="1557" font-size="24">EB<tspan font-size="10" dy="5">ε</tspan><tspan font-size="7" dy="2">i</tspan><tspan dy="-7"> = </tspan><tspan class="it">func</tspan><tspan font-size="10" dy="4">EB</tspan><tspan dy="-4" font-size="28">(</tspan><tspan font-size="9" dy="-10">R</tspan><tspan dy="10">⟨</tspan><tspan class="it">B</tspan><tspan font-size="10" dy="4">ПвЕФ</tspan><tspan dy="-4">⟩, {</tspan><tspan class="it">W</tspan><tspan font-size="9" dy="5">Rε</tspan><tspan font-size="6" dy="2">i</tspan><tspan font-size="9" dy="-2">V</tspan><tspan font-size="6" dy="2">j</tspan><tspan dy="-7" font-size="28"> })</tspan></text>
<text x="0" y="1715" font-size="24">W<tspan font-size="10" dy="5">Rε</tspan><tspan font-size="7" dy="2">i</tspan><tspan font-size="10" dy="-2">V</tspan><tspan font-size="7" dy="2">j</tspan><tspan dy="-7">  =</tspan></text>
<text x="0" y="1757" font-size="24" class="it">func<tspan font-size="14" dy="4" class="n">W</tspan><tspan dy="-4" class="n" font-size="28">({</tspan>d<tspan font-size="10" dy="6" class="n">V</tspan><tspan font-size="7" dy="2" class="n">rj</tspan><tspan dy="-8" class="n" font-size="28">}))</tspan></text>
</g>
</svg>
